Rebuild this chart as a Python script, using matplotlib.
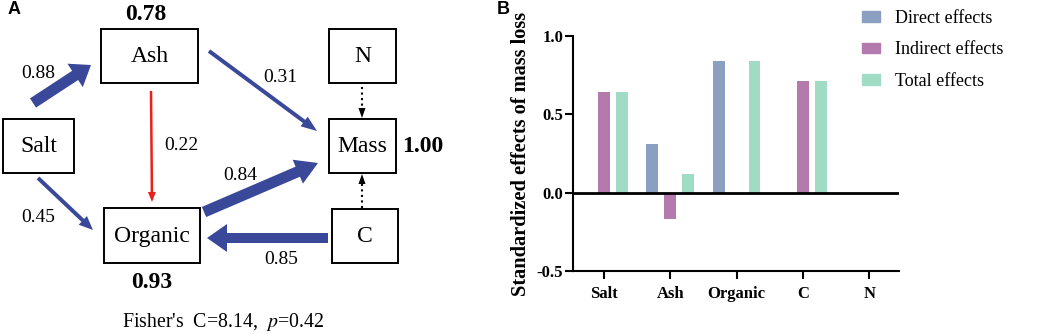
import matplotlib
matplotlib.use("Agg")
import matplotlib.pyplot as plt
from matplotlib.patches import Rectangle, FancyArrow, Patch
import numpy as np

plt.rcParams['font.family'] = ['Liberation Serif', 'DejaVu Serif']
plt.rcParams['mathtext.fontset'] = 'stix'

# panel B data
categories = ["Salt", "Ash", "Organic", "C", "N"]
direct_effects = [0.0, 0.31, 0.84, 0.0, 0.0]
indirect_effects = [0.64, -0.17, 0.0, 0.71, 0.0]
total_effects = [0.64, 0.12, 0.84, 0.71, 0.0]
series_names = ["Direct effects", "Indirect effects", "Total effects"]
series_colors = ["#8b9fc1", "#b479ad", "#9fdcc3"]

# panel A data
node_names = ["Ash", "N", "Salt", "Mass", "Organic", "C"]
r_squared = {"Ash": "0.78", "Mass": "1.00", "Organic": "0.93"}
path_from = ["Salt", "Ash", "Ash", "Salt", "Organic", "C"]
path_to = ["Ash", "Mass", "Organic", "Organic", "Mass", "Organic"]
path_coef = ["0.88", "0.31", "0.22", "0.45", "0.84", "0.85"]
fisher_c = 8.14
fisher_p = 0.42

fig = plt.figure(figsize=(10.45, 3.34), dpi=100)

# ---------- panel A: path diagram (pixel coords, y down) ----------
axA = fig.add_axes([0, 0, 470 / 1045, 1])
axA.set_xlim(0, 470)
axA.set_ylim(334, 0)
axA.axis('off')

boxes = {
    "Ash": (101, 29, 198, 83),
    "N": (329, 29, 396, 83),
    "Salt": (3, 119, 74, 173),
    "Mass": (329, 119, 396, 173),
    "Organic": (104, 208, 200, 263),
    "C": (332, 209, 398, 263),
}
for name in node_names:
    x0, y0, x1, y1 = boxes[name]
    axA.add_patch(Rectangle((x0, y0), x1 - x0, y1 - y0, fill=False, ec='black', lw=1.4))
    axA.text((x0 + x1) / 2, (y0 + y1) / 2 + 1, name, ha='center', va='center', fontsize=17)

r2_pos = {"Ash": (146, 14), "Mass": (423, 146), "Organic": (152, 283)}
for name, val in r_squared.items():
    axA.text(*r2_pos[name], val, ha='center', va='center', fontsize=17, fontweight='bold')

# arrow geometry: start, end, shaft width, head width, head length, colour, label position
arrow_geom = [
    ((33, 103), (91, 65), 11, 28, 19, "#3a4899", (38, 73)),
    ((209, 51), (317, 131), 4, 12, 16, "#3a4899", (280, 77)),
    ((151, 91), (152, 202), 2.5, 8, 10, "#e8211b", (181, 145)),
    ((38, 178), (93, 230), 4, 12, 14, "#3a4899", (38, 217)),
    ((204, 212), (318, 163), 11, 26, 22, "#3a4899", (240, 175)),
    ((328, 238), (207, 238), 10, 28, 20, "#3a4899", (281, 259)),
]
for coef, (s, e, w, hw, hl, col, lp) in zip(path_coef, arrow_geom):
    axA.add_patch(FancyArrow(s[0], s[1], e[0] - s[0], e[1] - s[1], width=w,
                             head_width=hw, head_length=hl, length_includes_head=True,
                             color=col, lw=0))
    axA.text(lp[0], lp[1], coef, ha='center', va='center', fontsize=14)

# dotted non-significant paths into Mass
for y0, y1, y2 in [(87, 108, 118), (208, 184, 174)]:
    axA.plot([362, 362], [y0, y1], ls=':', color='black', lw=1.5)
    axA.add_patch(FancyArrow(362, y1, 0, y2 - y1, width=0.01, head_width=7,
                             head_length=10, length_includes_head=True, color='black', lw=0))

axA.text(223, 322, r"Fisher's  C=%.2f,  $\it{p}$=%.2f" % (fisher_c, fisher_p),
         ha='center', va='center', fontsize=14.3)
axA.text(8, 10, "A", ha='left', va='center', fontsize=13, fontweight='bold',
         family='Liberation Sans')

# ---------- panel B: bar chart ----------
axB = fig.add_axes([573 / 1045, 1 - 271 / 334, (899 - 573) / 1045, (271 - 36) / 334])
x = np.arange(len(categories))
offset = 0.27
width = 0.18
for i, (vals, name, col) in enumerate(zip([direct_effects, indirect_effects, total_effects],
                                          series_names, series_colors)):
    axB.bar(x + (i - 1) * offset, vals, width, color=col, label=name, zorder=2)

axB.axhline(0, color='black', lw=2, zorder=3)
axB.set_xlim(-0.468, 4.45)
axB.set_ylim(-0.5, 1.0)
axB.set_yticks([-0.5, 0.0, 0.5, 1.0])
axB.set_yticklabels(["-0.5", "0.0", "0.5", "1.0"])
axB.set_xticks(x)
axB.set_xticklabels(categories)
for sp in ['top', 'right']:
    axB.spines[sp].set_visible(False)
for sp in ['left', 'bottom']:
    axB.spines[sp].set_linewidth(1.5)
axB.tick_params(axis='y', length=6, width=1.5, pad=1, labelsize=12)
axB.tick_params(axis='x', length=6, width=1.5, pad=5, labelsize=12)
for lab in axB.get_xticklabels() + axB.get_yticklabels():
    lab.set_fontweight('bold')
axB.set_ylabel("Standardized effects of mass loss", fontsize=14.7, fontweight='bold', labelpad=4)

handles = [Patch(color=c) for c in series_colors]
fig.legend(handles, series_names, loc='upper left', bbox_to_anchor=(846 / 1045, 1.02),
           frameon=False, fontsize=13, handlelength=1.0, handleheight=0.55,
           handletextpad=0.8, labelspacing=0.82)

fig.text(497 / 1045, 1 - 10 / 334, "B", ha='left', va='center', fontsize=13,
         fontweight='bold', family='Liberation Sans')

fig.savefig("out.png", dpi=100)
